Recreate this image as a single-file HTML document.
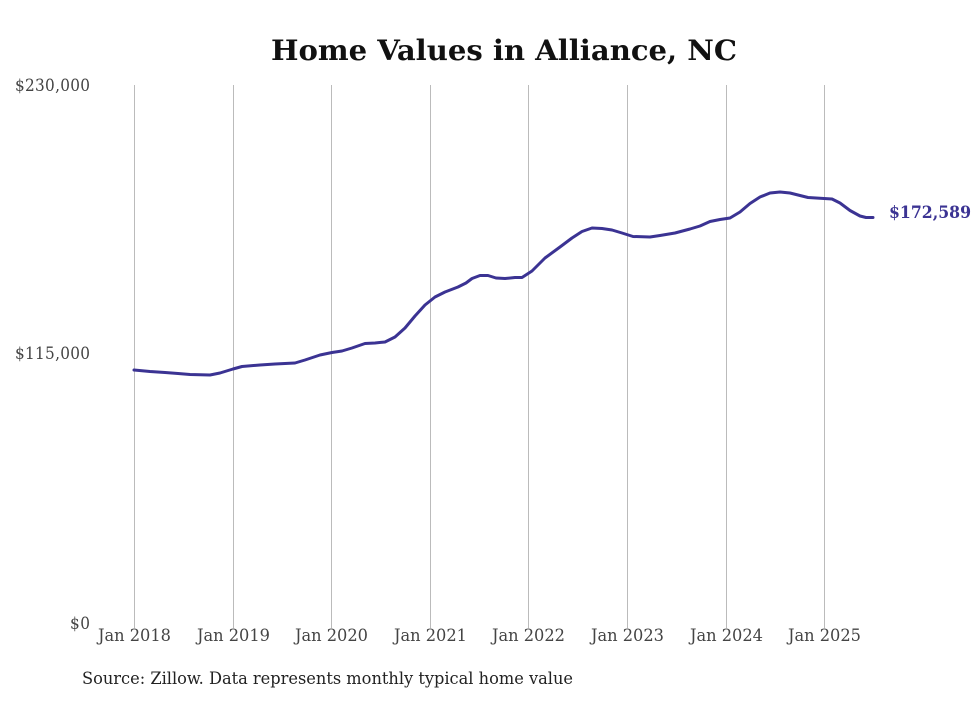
<!DOCTYPE html>
<html><head><meta charset="utf-8"><style>
body{margin:0;background:#fff;}
svg text{font-family:"DejaVu Serif Condensed","DejaVu Serif","Liberation Serif",serif;}
</style></head><body>
<svg width="980" height="699" viewBox="0 0 980 699" xmlns="http://www.w3.org/2000/svg">
<rect width="980" height="699" fill="#fff"/>
<text x="271" y="60" font-size="28" font-weight="bold" fill="#111" textLength="466" lengthAdjust="spacingAndGlyphs">Home Values in Alliance, NC</text>
<g stroke="#bbb" stroke-width="1">
<line x1="134.5" y1="85" x2="134.5" y2="628"/>
<line x1="233.5" y1="85" x2="233.5" y2="628"/>
<line x1="331.5" y1="85" x2="331.5" y2="628"/>
<line x1="430.5" y1="85" x2="430.5" y2="628"/>
<line x1="528.5" y1="85" x2="528.5" y2="628"/>
<line x1="627.5" y1="85" x2="627.5" y2="628"/>
<line x1="726.5" y1="85" x2="726.5" y2="628"/>
<line x1="824.5" y1="85" x2="824.5" y2="628"/>
</g>
<g font-size="17" fill="#444" lengthAdjust="spacingAndGlyphs">
<text x="15" y="91" textLength="75">$230,000</text>
<text x="15" y="359" textLength="75">$115,000</text>
<text x="70" y="629" textLength="20">$0</text>
</g>
<g font-size="17" fill="#444">
<text x="98" y="641" textLength="73" lengthAdjust="spacingAndGlyphs">Jan 2018</text>
<text x="197" y="641" textLength="73" lengthAdjust="spacingAndGlyphs">Jan 2019</text>
<text x="295" y="641" textLength="73" lengthAdjust="spacingAndGlyphs">Jan 2020</text>
<text x="394" y="641" textLength="73" lengthAdjust="spacingAndGlyphs">Jan 2021</text>
<text x="492" y="641" textLength="73" lengthAdjust="spacingAndGlyphs">Jan 2022</text>
<text x="591" y="641" textLength="73" lengthAdjust="spacingAndGlyphs">Jan 2023</text>
<text x="690" y="641" textLength="73" lengthAdjust="spacingAndGlyphs">Jan 2024</text>
<text x="788" y="641" textLength="73" lengthAdjust="spacingAndGlyphs">Jan 2025</text>
</g>
<text x="82" y="684" font-size="17" fill="#222" textLength="491" lengthAdjust="spacingAndGlyphs">Source: Zillow. Data represents monthly typical home value</text>
<polyline fill="none" stroke="#3b3393" stroke-width="3" stroke-linejoin="round" stroke-linecap="round"
points="134,370 150,371.5 165,372.5 178,373.5 190,374.5 210,375 220,373 233,369 242,366.5 260,365 275,364 295,363 305,360 320,355 332,352.5 342,351 352,348 365,343.5 375,343 385,342 395,337 405,328 415,316 425,305 435,297 445,292 458,287 466,283 472,278.5 480,275.5 488,275.5 496,278 505,278.5 515,277.5 522,277.5 532,271 545,258 560,247 572,238 582,231.5 592,228 602,228.5 612,230 622,233 633,236.5 650,237 660,235.5 675,233 690,229 700,226 710,221.5 720,219.5 730,218 740,212 750,203.5 760,197 770,193 780,192 790,193 800,195.5 808,197.5 824,198.5 832,199 840,203 850,210.5 860,216 866,217.5 873,217.5"/>
<text x="889" y="218" font-size="17" font-weight="bold" fill="#3b3393" textLength="82" lengthAdjust="spacingAndGlyphs">$172,589</text>
</svg>
</body></html>
